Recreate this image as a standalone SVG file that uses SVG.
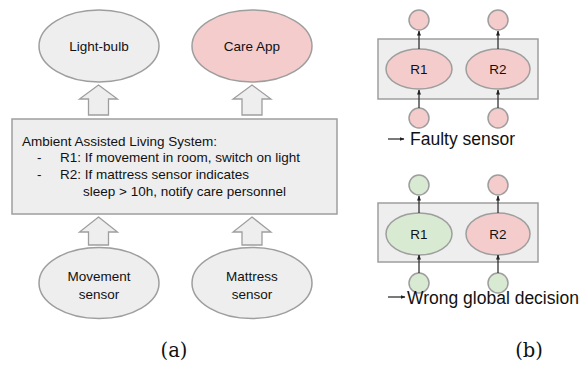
<svg xmlns="http://www.w3.org/2000/svg" width="579" height="367" viewBox="0 0 579 367">
  <defs>
    <style>
      .grey { fill: #eeeeee; stroke: #9e9e9e; stroke-width: 1.5; }
      .pink { fill: #f4cccc; stroke: #9e9e9e; stroke-width: 1.5; }
      .green { fill: #d9ead3; stroke: #9e9e9e; stroke-width: 1.5; }
      .hollow { fill: #eeeeee; stroke: #9e9e9e; stroke-width: 1.3; stroke-linejoin: miter; }
      .t { font-family: "Liberation Sans", Arial, sans-serif; font-size: 13.5px; fill: #111; }
      .tc { font-family: "Liberation Sans", Arial, sans-serif; font-size: 13.5px; fill: #111; text-anchor: middle; }
      .leg { font-family: "Liberation Sans", Arial, sans-serif; font-size: 17.5px; fill: #111; }
      .cap { font-family: "DejaVu Serif", "Liberation Serif", serif; font-size: 19.5px; fill: #111; text-anchor: middle; }
      .wire { stroke: #222; stroke-width: 1.2; fill: none; marker-end: url(#ah); }
    </style>
    <marker id="ah" viewBox="0 0 10 10" refX="9" refY="5" markerWidth="5" markerHeight="5" orient="auto" markerUnits="userSpaceOnUse">
      <path d="M0,1 L10,5 L0,9 z" fill="#222"/>
    </marker>
  </defs>

  <!-- (a) panel -->
  <g id="lightbulb">
    <ellipse class="grey" cx="99" cy="46" rx="60" ry="36"/>
    <text class="tc" x="99" y="51">Light-bulb</text>
  </g>
  <g id="careapp">
    <ellipse class="pink" cx="252" cy="46" rx="60" ry="36"/>
    <text class="tc" x="252" y="51">Care App</text>
  </g>
  <g id="aal-system">
    <rect class="grey" x="12" y="119" width="325" height="95"/>
    <text class="t" x="22" y="146">Ambient Assisted Living System:</text>
    <text class="t" x="37" y="162">-</text>
    <text class="t" x="60" y="162">R1: If movement in room, switch on light</text>
    <text class="t" x="37" y="179">-</text>
    <text class="t" x="60" y="179">R2: If mattress sensor indicates</text>
    <text class="t" x="83" y="195.5">sleep &gt; 10h, notify care personnel</text>
  </g>
  <g id="movement-sensor">
    <ellipse class="grey" cx="99" cy="283" rx="60" ry="35.5"/>
    <text class="tc" x="99" y="281">Movement</text>
    <text class="tc" x="99" y="299">sensor</text>
  </g>
  <g id="mattress-sensor">
    <ellipse class="grey" cx="252" cy="283" rx="60" ry="35.5"/>
    <text class="tc" x="252" y="281">Mattress</text>
    <text class="tc" x="252" y="299">sensor</text>
  </g>
  <g id="connectors-a">
    <path class="hollow" d="M98.5,85 L117.5,99 L108.5,99 L108.5,115 L88.5,115 L88.5,99 L79.5,99 Z"/>
    <path class="hollow" d="M252,85 L271,99 L262,99 L262,115 L242,115 L242,99 L233,99 Z"/>
    <path class="hollow" d="M98.5,217 L117.5,232 L108.5,232 L108.5,245 L88.5,245 L88.5,232 L79.5,232 Z"/>
    <path class="hollow" d="M252,217 L271,232 L262,232 L262,245 L242,245 L242,232 L233,232 Z"/>
  </g>
  <text class="cap" x="174" y="357">(a)</text>

  <!-- (b) panel, top: faulty sensor -->
  <g id="b1-box">
    <rect class="grey" x="378" y="39" width="160" height="60"/>
  </g>
  <g id="b1-r1">
    <ellipse class="pink" cx="419" cy="69" rx="33" ry="20"/>
    <text class="tc" x="419" y="74">R1</text>
  </g>
  <g id="b1-r2">
    <ellipse class="pink" cx="498" cy="69" rx="32" ry="20"/>
    <text class="tc" x="498" y="74">R2</text>
  </g>
  <g id="b1-out1"><circle class="pink" cx="419" cy="20" r="10"/></g>
  <g id="b1-out2"><circle class="pink" cx="498" cy="20" r="10"/></g>
  <g id="b1-in1"><circle class="pink" cx="419" cy="118" r="10"/></g>
  <g id="b1-in2"><circle class="pink" cx="498" cy="118" r="10"/></g>
  <g id="connectors-b1">
    <line class="wire" x1="419" y1="49" x2="419" y2="31"/>
    <line class="wire" x1="498" y1="49" x2="498" y2="31"/>
    <line class="wire" x1="419" y1="108" x2="419" y2="90"/>
    <line class="wire" x1="498" y1="108" x2="498" y2="90"/>
    <line class="wire" x1="388" y1="139" x2="404" y2="139"/>
  </g>
  <text class="leg" x="410" y="145">Faulty sensor</text>

  <!-- (b) panel, bottom: wrong global decision -->
  <g id="b2-box">
    <rect class="grey" x="378" y="203" width="160" height="59"/>
  </g>
  <g id="b2-r1">
    <ellipse class="green" cx="419" cy="234" rx="33" ry="21"/>
    <text class="tc" x="419" y="239">R1</text>
  </g>
  <g id="b2-r2">
    <ellipse class="pink" cx="498" cy="234" rx="32" ry="21"/>
    <text class="tc" x="498" y="239">R2</text>
  </g>
  <g id="b2-out1"><circle class="green" cx="419" cy="185" r="10"/></g>
  <g id="b2-out2"><circle class="pink" cx="498" cy="185" r="10"/></g>
  <g id="b2-in1"><circle class="green" cx="419" cy="283" r="10"/></g>
  <g id="b2-in2"><circle class="green" cx="498" cy="283" r="10"/></g>
  <g id="connectors-b2">
    <line class="wire" x1="419" y1="213" x2="419" y2="196"/>
    <line class="wire" x1="498" y1="213" x2="498" y2="196"/>
    <line class="wire" x1="419" y1="273" x2="419" y2="255"/>
    <line class="wire" x1="498" y1="273" x2="498" y2="255"/>
    <line class="wire" x1="388" y1="297" x2="405" y2="297"/>
  </g>
  <text class="leg" x="407" y="303.5">Wrong global decision</text>
  <text class="cap" x="529" y="357">(b)</text>
</svg>
